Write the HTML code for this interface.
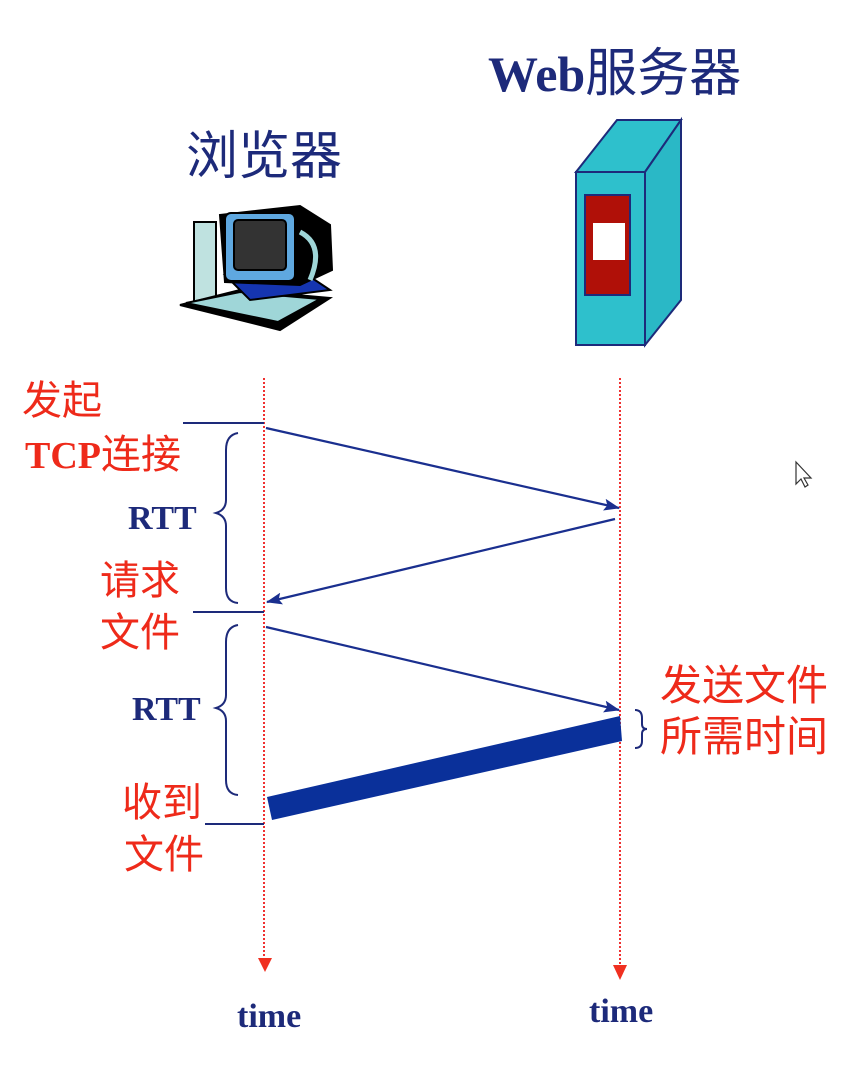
<!DOCTYPE html>
<html><head><meta charset="utf-8"><style>
html,body{margin:0;padding:0;background:#fff;}
body{width:858px;height:1076px;overflow:hidden;}
</style></head><body>
<svg width="858" height="1076" viewBox="0 0 858 1076" xmlns="http://www.w3.org/2000/svg">
<defs>
<marker id="ah" markerWidth="16" markerHeight="12" refX="15" refY="6" orient="auto" markerUnits="userSpaceOnUse"><path d="M0,0 L16,6 L0,12 L3,6 z" fill="#1a2f8f"/></marker>
</defs>
<text x="186" y="174" font-family="'Noto Sans CJK SC',sans-serif" font-size="52" fill="#1d2a7a">浏览器</text>
<text x="488" y="91" font-family="'Liberation Serif',serif" font-weight="bold" font-size="50" fill="#1d2a7a">Web<tspan font-family="'Noto Sans CJK SC',sans-serif" font-weight="normal" font-size="52">服务器</tspan></text>
<g stroke="#000" stroke-width="2">
<rect x="194" y="222" width="22" height="80" fill="#bfe2e0"/>
<path d="M180,305 L240,290 L330,298 L280,330 Z" fill="#000"/>
<path d="M186,303 L240,292 L320,299 L278,322 Z" fill="#9fd6d8"/>
<path d="M225,275 L300,270 L330,290 L250,300 Z" fill="#1535b0"/>
<path d="M220,215 L300,206 L330,225 L332,270 L300,285 L225,282 Z" fill="#000"/>
<rect x="225" y="213" width="70" height="68" rx="6" fill="#5fa8e0"/>
<rect x="234" y="220" width="52" height="50" rx="4" fill="#333"/>
<path d="M300,232 Q325,245 310,280" fill="none" stroke="#9fd6d8" stroke-width="5"/>
</g>
<g stroke="#1d2a7a" stroke-width="2">
<polygon points="576,172 617,120 681,120 645,172" fill="#2ec0cc"/>
<polygon points="645,172 681,120 681,300 645,345" fill="#2ab8c6"/>
<rect x="576" y="172" width="69" height="173" fill="#2ec0cc"/>
<rect x="585" y="195" width="45" height="100" fill="#b01008"/>
</g>
<rect x="593" y="223" width="32" height="37" fill="#fff"/>
<line x1="264" y1="378" x2="264" y2="960" stroke="#f03030" stroke-width="2" stroke-dasharray="2,2"/>
<path d="M258,958 L272,958 L265,972 Z" fill="#f03020"/>
<line x1="620" y1="378" x2="620" y2="966" stroke="#f03030" stroke-width="2" stroke-dasharray="2,2"/>
<path d="M613,965 L627,965 L620,980 Z" fill="#f03020"/>
<g stroke="#1d2a7a" stroke-width="2">
<line x1="183" y1="423" x2="264" y2="423"/>
<line x1="193" y1="612" x2="264" y2="612"/>
<line x1="205" y1="824" x2="264" y2="824"/>
</g>
<g stroke="#1a2f8f" stroke-width="2.2" fill="none">
<line x1="266" y1="428" x2="619" y2="508" marker-end="url(#ah)"/>
<line x1="615" y1="519" x2="267" y2="602" marker-end="url(#ah)"/>
<line x1="266" y1="627" x2="619" y2="710" marker-end="url(#ah)"/>
</g>
<polygon points="267,797 620,716 622,741 272,820" fill="#0a309a"/>
<g stroke="#1d2a7a" stroke-width="2" fill="none">
<path d="M238,433 Q226,435 226,450 L226,500 Q226,510 216,513 Q226,516 226,526 L226,588 Q226,602 238,603"/>
<path d="M238,625 Q226,627 226,642 L226,695 Q226,705 216,708 Q226,711 226,721 L226,780 Q226,794 238,795"/>
<path d="M635,710 Q642,710 642,718 L642,724 Q642,729 647,729 Q642,729 642,734 L642,741 Q642,748 635,748"/>
</g>
<g font-family="'Noto Sans CJK SC',sans-serif" font-size="40" fill="#ee2a1a">
<text x="22" y="414">发起</text>
<text x="100" y="594">请求</text>
<text x="100" y="646">文件</text>
<text x="122" y="816">收到</text>
<text x="124" y="868">文件</text>
<text x="660" y="700" font-size="42">发送文件</text>
<text x="660" y="751" font-size="42">所需时间</text>
</g>
<text x="25" y="468" font-family="'Liberation Serif',serif" font-weight="bold" font-size="38" fill="#ee2a1a">TCP<tspan font-family="'Noto Sans CJK SC',sans-serif" font-weight="normal" font-size="40">连接</tspan></text>
<g font-family="'Liberation Serif',serif" font-weight="bold" fill="#1d2a7a">
<text x="128" y="529" font-size="34">RTT</text>
<text x="132" y="720" font-size="34">RTT</text>
<text x="237" y="1027" font-size="34">time</text>
<text x="589" y="1022" font-size="34">time</text>
</g>
<path d="M796,462 L796,484 L801,479 L805,487 L808,485 L804,478 L811,478 Z" fill="#fff" stroke="#333" stroke-width="1.2"/>
</svg>
</body></html>
